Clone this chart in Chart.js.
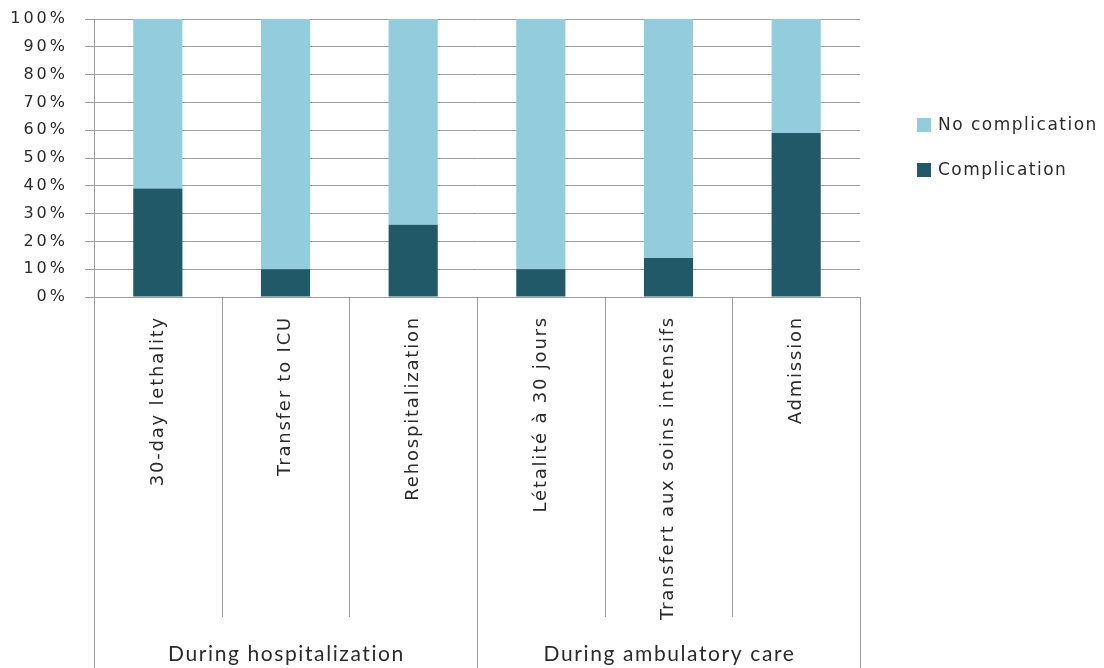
<!DOCTYPE html>
<html>
<head>
<meta charset="utf-8">
<script src="https://cdn.jsdelivr.net/npm/chart.js@4"></script>
<style>
html,body{margin:0;padding:0;background:#fff;}
#wrap{width:1104px;height:668px;position:relative;}
</style>
</head>
<body>
<div id="wrap"><canvas id="c" width="1104" height="668"></canvas></div>
<script>
const categories = ['30-day lethality','Transfer to ICU','Rehospitalization','Létalité à 30 jours','Transfert aux soins intensifs','Admission'];
const groupLabels = ['During hospitalization','During ambulatory care'];
const groupSizes = [3,3];
const complication = [39,10,26,10,14,59];
const noComplication = [61,90,74,90,86,41];
const seriesNames = ['Complication','No complication'];
const seriesColors = ['#215968','#93CDDD'];

const gridColor = '#9c9c9c';
const textColor = '#2b2b2b';

function withSpacing(scale, spacing) {
  if (scale._spPatched) return;
  const orig = scale.drawLabels;
  scale.drawLabels = function (area) {
    const ctx = this.ctx;
    ctx.save();
    ctx.letterSpacing = spacing;
    orig.call(this, area);
    ctx.restore();
  };
  scale._spPatched = true;
}

const groupPlugin = {
  id: 'groups',
  beforeDraw(chart) {
    withSpacing(chart.scales.x, '1.8px');
    withSpacing(chart.scales.y, '3px');
  },
  afterDraw(chart) {
    const ctx = chart.ctx;
    const xs = chart.scales.x;
    const ca = chart.chartArea;
    const n = categories.length;
    const w = (xs.right - xs.left) / n;
    ctx.save();
    ctx.strokeStyle = gridColor;
    ctx.lineWidth = 1;
    const groupEdges = [0];
    let acc = 0;
    groupSizes.forEach(s => { acc += s; groupEdges.push(acc); });
    for (let i = 0; i <= n; i++) {
      const x = Math.round(xs.left + i * w) + 0.5;
      const isGroup = groupEdges.includes(i);
      ctx.beginPath();
      ctx.moveTo(x, ca.bottom);
      ctx.lineTo(x, isGroup ? chart.height : ca.bottom + 320);
      ctx.stroke();
    }
    ctx.fillStyle = textColor;
    ctx.font = '21px Lato';
    ctx.letterSpacing = '1.6px';
    ctx.textAlign = 'center';
    ctx.textBaseline = 'middle';
    for (let g = 0; g < groupLabels.length; g++) {
      const x0 = xs.left + groupEdges[g] * w;
      const x1 = xs.left + groupEdges[g + 1] * w;
      ctx.fillText(groupLabels[g], (x0 + x1) / 2 + 1, ca.bottom + 357);
    }
    ctx.font = '17px "DejaVu Sans"';
    ctx.letterSpacing = '1.5px';
    ctx.textAlign = 'left';
    const items = chart.data.datasets.map(d => ({label: d.label, color: d.backgroundColor})).reverse();
    items.forEach((it, i) => {
      const cy = ca.top + 106 + i * 45;
      const bx = ca.right + 57;
      ctx.fillStyle = it.color;
      ctx.fillRect(bx, cy - 7, 14, 14);
      ctx.fillStyle = textColor;
      ctx.fillText(it.label, bx + 21, cy + 1);
    });
    ctx.restore();
  }
};

new Chart(document.getElementById('c'), {
  type: 'bar',
  data: {
    labels: categories,
    datasets: [
      {label: seriesNames[0], data: complication, backgroundColor: seriesColors[0], borderWidth: 0},
      {label: seriesNames[1], data: noComplication, backgroundColor: seriesColors[1], borderWidth: 0}
    ]
  },
  options: {
    responsive: false,
    animation: false,
    layout: {padding: {left: 0, right: 244, top: 19, bottom: 0}},
    datasets: {bar: {barPercentage: 0.385, categoryPercentage: 1}},
    plugins: {legend: {display: false}, tooltip: {enabled: false}},
    scales: {
      x: {
        stacked: true,
        grid: {display: false, drawTicks: false},
        border: {display: false},
        ticks: {
          autoSkip: false, maxRotation: 90, minRotation: 90, padding: 19,
          color: textColor, font: {family: 'DejaVu Sans', size: 18}
        },
        afterFit(s) { s.height = 371; s.paddingLeft = 0; s.paddingRight = 0; }
      },
      y: {
        stacked: true,
        min: 0, max: 100,
        grid: {color: gridColor, lineWidth: 1, tickLength: 9, drawTicks: true},
        border: {display: true, color: gridColor, width: 1},
        ticks: {
          stepSize: 10, padding: 17, color: textColor,
          font: {family: 'DejaVu Sans', size: 16},
          callback: v => v + '%'
        },
        afterFit(s) { s.width = 94; s.paddingTop = 0; s.paddingBottom = 0; }
      }
    }
  },
  plugins: [groupPlugin]
});
</script>
</body>
</html>
